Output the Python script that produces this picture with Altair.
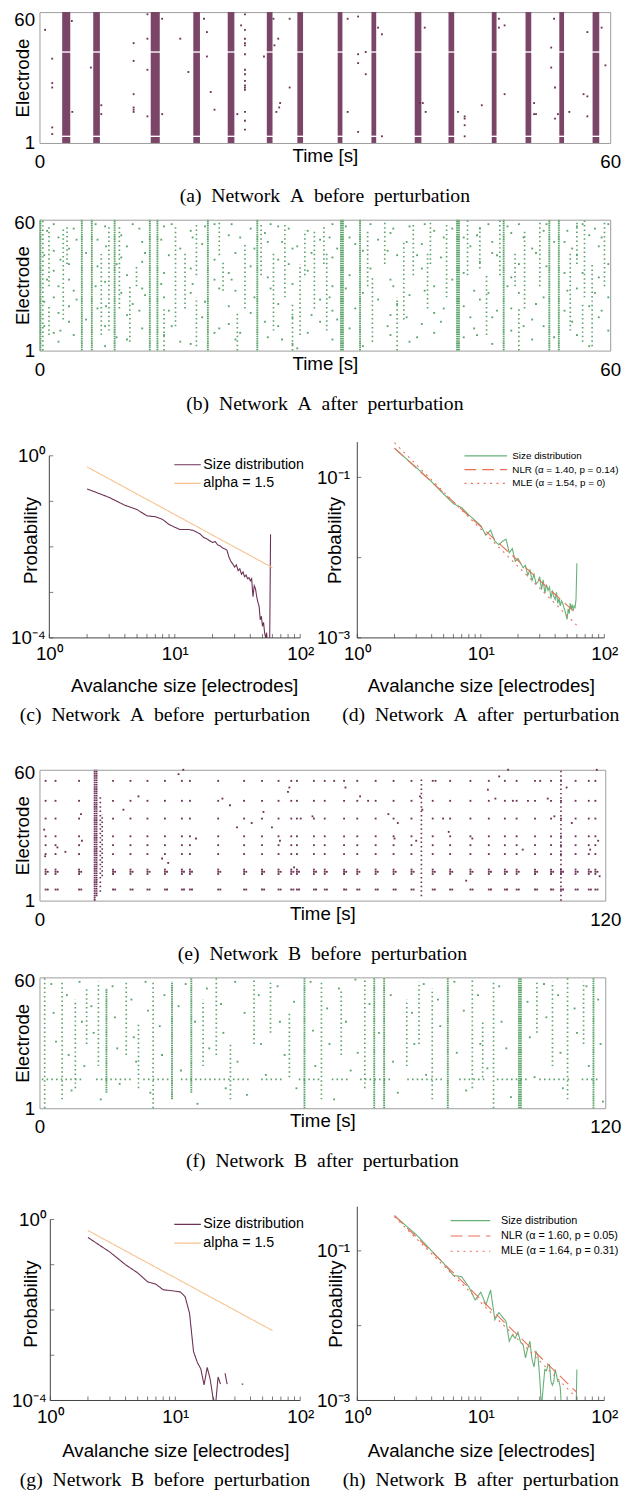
import altair as alt
import pandas as pd

PURPLE = "#6d3156"
GREEN = "#5aa469"
GREEN_LINE = "#66b077"
PEACH = "#f6c28e"
RED = "#e96f57"
BOX = "#9b9b9b"
AXC = "#404040"
SANS = "Liberation Sans"
SERIF = "Liberation Serif"

# ---------------- (a) Network A before perturbation ----------------
A_BURST_T = [2.81, 6.0, 12.17, 16.52, 20.14, 24.2, 27.41, 31.6, 35.15, 39.8, 43.3, 47.8, 51.4, 54.9, 58.5]
A_BURST_W = [0.85, 0.7, 0.95, 0.7, 0.7, 0.6, 0.6, 0.5, 0.5, 0.7, 0.6, 0.5, 0.6, 0.5, 0.7]
# electrode bands that fire in every burst (electrodes 4 and 42 stay silent)
A_BURST_BANDS = [(1, 3.7), (4.3, 41.7), (42.3, 60)]
A_DOTS = [(0.59, 52), (1.34, 39), (1.34, 28), (1.34, 26), (1.34, 8), (1.34, 5), (5.4, 35), (3.4, 56),
          (3.45, 15), (6.5, 18), (6.5, 14), (9.9, 46), (9.9, 38), (9.9, 23), (9.9, 17), (9.9, 16),
          (9.9, 15), (11.35, 59), (11.35, 48), (11.35, 34), (11.35, 13), (12.9, 57), (12.9, 14),
          (14.8, 48), (15.65, 33), (17.3, 57), (17.6, 51), (17.6, 40), (18.0, 24), (18.4, 16),
          (20.8, 14), (21.2, 54), (21.6, 59), (21.6, 52), (21.6, 48), (21.6, 46), (21.6, 45),
          (21.6, 41), (21.6, 34), (21.6, 32), (21.6, 29), (21.6, 27), (21.6, 26), (21.6, 25),
          (21.6, 15), (21.6, 11), (21.6, 7), (23.6, 40), (24.6, 57), (25.1, 48), (24.7, 45),
          (25.3, 19), (25.2, 17), (24.9, 15), (26.3, 57), (26.3, 26), (32.4, 57), (33.5, 58),
          (33.5, 41), (34.3, 42), (33.5, 37), (34.3, 32), (32.4, 15), (33.5, 6), (36.0, 50),
          (35.6, 53), (36.0, 4), (40.5, 53), (40.0, 19), (40.3, 19), (40.6, 15), (44.0, 15),
          (44.7, 13), (44.7, 12), (44.7, 9), (44.7, 4), (46.5, 18), (48.3, 57), (48.9, 54),
          (48.3, 53), (48.9, 23), (52.0, 19), (52.0, 14), (52.2, 14), (55.7, 15), (54.1, 57),
          (53.8, 44), (53.8, 35), (54.2, 26), (54.5, 14), (54.2, 12), (57.2, 23), (57.6, 22),
          (57.6, 51), (57.6, 13), (59.1, 53), (59.5, 36)]

# ---------------- (b) Network A after perturbation ----------------
B_DENSE = [(0.1, 1, 60), (4.45, 1, 60), (5.5, 1, 60), (7.9, 1, 60), (11.6, 1, 60), (12.4, 1, 60),
           (17.7, 1, 60), (22.9, 1, 60), (31.7, 1, 60), (31.9, 1, 60), (33.7, 1, 60), (43.9, 1, 60),
           (44.1, 1, 60), (48.8, 1, 60), (53.6, 1, 60), (54.6, 1, 60)]
B_SPARSE = [(1.0, 30, 58), (1.0, 8, 22), (2.5, 15, 56), (7.3, 10, 58), (14.3, 12, 58), (15.3, 20, 45),
            (16.5, 35, 58), (16.5, 3, 25), (19.3, 28, 42), (21.6, 20, 50), (23.3, 35, 58), (24.6, 10, 45),
            (25.8, 25, 58), (27.4, 8, 40), (27.9, 35, 55), (28.9, 20, 55), (30.2, 10, 45), (34.5, 30, 55),
            (35.0, 5, 35), (36.3, 40, 60), (38.3, 15, 50), (39.3, 35, 58), (40.8, 20, 45), (42.8, 25, 58),
            (45.0, 35, 60), (47.0, 8, 35), (48.4, 35, 60), (51.0, 20, 55), (52.6, 30, 60), (55.8, 10, 45),
            (57.3, 25, 60), (58.1, 3, 40), (59.4, 30, 60), (0.35, 1, 60), (10.2, 30, 40), (6.5, 8, 45),
            (8.4, 20, 58), (13.1, 1, 20), (20.8, 1, 18), (26.6, 1, 22), (37.6, 1, 25), (46.3, 38, 58),
            (50.4, 1, 20), (56.5, 40, 60), (2.9, 40, 58), (9.5, 5, 30), (18.9, 44, 60), (29.9, 40, 58),
            (41.1, 40, 60), (50.0, 30, 45), (57.1, 5, 22)]
B_DOTS = [(0.5, 44), (0.5, 23), (0.5, 12), (1.5, 58), (1.5, 46), (1.5, 37), (1.5, 25), (1.5, 9),
          (2.0, 52), (2.0, 30), (2.0, 18), (2.0, 5), (3.1, 47), (3.1, 40), (3.1, 33), (3.1, 21), (3.1, 14),
          (3.6, 56), (3.6, 28), (3.6, 8), (6.1, 51), (6.1, 39), (6.1, 20), (6.9, 57), (6.9, 32), (6.9, 12),
          (6.9, 3), (8.6, 53), (8.6, 43), (8.6, 27), (9.2, 48), (9.2, 35), (9.2, 17), (9.2, 6), (9.8, 58),
          (9.8, 22), (10.8, 50), (10.8, 41), (10.8, 29), (10.8, 11), (13.1, 57), (13.1, 36), (13.1, 25),
          (13.1, 8), (13.6, 44), (13.6, 19), (15.9, 55), (15.9, 38), (15.9, 27), (15.9, 4), (17.1, 49),
          (17.1, 16), (18.4, 58), (18.4, 42), (18.4, 33), (18.4, 9), (19.9, 53), (19.9, 36), (19.9, 21),
          (19.9, 13), (20.6, 45), (20.6, 28), (20.6, 6), (22.2, 56), (22.2, 39), (22.2, 18), (24.0, 50),
          (24.0, 34), (24.0, 7), (25.1, 57), (25.1, 42), (25.1, 22), (25.1, 12), (26.6, 47), (26.6, 31),
          (26.6, 16), (26.6, 4), (28.2, 55), (28.2, 37), (28.2, 9), (29.5, 51), (29.5, 24), (29.5, 14),
          (30.8, 58), (30.8, 43), (30.8, 30), (30.8, 19), (30.8, 6), (32.6, 52), (32.6, 35), (32.6, 11),
          (34.0, 46), (34.0, 27), (34.0, 3), (36.9, 54), (36.9, 33), (36.9, 17), (36.9, 8), (37.6, 44),
          (37.6, 22), (38.9, 57), (38.9, 26), (38.9, 5), (40.2, 49), (40.2, 38), (40.2, 13), (41.5, 55),
          (41.5, 30), (41.5, 18), (41.5, 9), (42.2, 43), (42.2, 14), (44.6, 52), (44.6, 36), (44.6, 21),
          (44.6, 7), (45.7, 28), (45.7, 11), (46.3, 56), (46.3, 41), (46.3, 24), (47.6, 50), (47.6, 45),
          (47.6, 16), (47.6, 4), (49.6, 54), (49.6, 34), (49.6, 20), (49.6, 10), (50.4, 58), (50.4, 40),
          (50.4, 27), (51.8, 47), (51.8, 15), (51.8, 6), (53.0, 55), (53.0, 25), (53.0, 12), (55.2, 50),
          (55.2, 36), (55.2, 19), (56.5, 57), (56.5, 44), (56.5, 29), (56.5, 8), (57.8, 53), (57.8, 21),
          (57.8, 3), (58.8, 48), (58.8, 34), (58.8, 16), (59.8, 58), (59.8, 40), (59.8, 25), (59.8, 10),
          (0.8, 55), (0.8, 33), (2.2, 42), (2.2, 10), (3.9, 51), (3.9, 24), (4.9, 45), (4.9, 15),
          (5.9, 58), (5.9, 30), (7.0, 48), (7.0, 21), (8.1, 40), (8.1, 7), (10.5, 56), (10.5, 19),
          (11.1, 45), (11.1, 26), (12.8, 51), (12.8, 31), (13.9, 58), (13.9, 12), (14.8, 47), (14.8, 5),
          (16.1, 52), (16.1, 31), (17.4, 57), (17.4, 23), (18.9, 29), (18.9, 11), (20.2, 58), (20.2, 33),
          (21.1, 52), (21.1, 9), (22.6, 47), (22.6, 25), (23.7, 54), (23.7, 14), (24.3, 58), (24.3, 29),
          (25.5, 50), (25.5, 6), (26.2, 56), (26.2, 40), (27.1, 48), (27.1, 2), (28.6, 45), (28.6, 17),
          (30.5, 52), (30.5, 25), (31.3, 47), (31.3, 15), (32.2, 57), (32.2, 29), (33.2, 49), (33.2, 20),
          (34.8, 58), (34.8, 38), (35.6, 51), (35.6, 24), (36.6, 46), (36.6, 12), (37.2, 56), (37.2, 30),
          (38.6, 50), (38.6, 16), (39.7, 44), (39.7, 7), (40.5, 58), (40.5, 28), (42.5, 52), (42.5, 20),
          (43.4, 56), (43.4, 33), (45.3, 48), (45.3, 16), (46.0, 53), (46.0, 8), (47.2, 58), (47.2, 27),
          (48.1, 44), (48.1, 19), (49.2, 57), (49.2, 30), (50.9, 52), (50.9, 12), (52.2, 45), (52.2, 22),
          (53.3, 58), (53.3, 39), (54.1, 50), (54.1, 7), (55.5, 55), (55.5, 28), (56.0, 47), (56.0, 14),
          (57.1, 58), (57.1, 36), (58.4, 56), (58.4, 27), (59.1, 52), (59.1, 19)]

# ---------------- (e) Network B before perturbation ----------------
E_EVENTS = [1.3, 3.4, 8.4, 15.6, 19.3, 22.9, 26.6, 30.2, 31.9, 37.9, 43.4, 47.2, 50.7, 53.4, 54.6,
            58.2, 60.5, 64.6, 67.4, 71.3, 75.1, 78.9, 83.4, 87.1, 91.4, 95.3, 98.7, 101.2, 105.1,
            108.5, 110.6, 113.7, 116.5, 117.9]
E_ROWS = [55, 46, 38, 30, 26, 22, 15, 14, 13, 6]
E_WIDE_ROWS = [14, 6]
E_WIDE_SHIFT = [0.45]
E_DENSE = [(11.7, 1, 60), (12.1, 3, 60)]
E_SPARSE = [(12.9, 5, 48), (13.3, 12, 40), (81.0, 3, 56), (110.6, 1, 60)]
E_DOTS = [(1.0, 33), (1.2, 21), (3.8, 25), (5.5, 23), (8.8, 40), (9.0, 28), (17.8, 42), (21.0, 48),
          (26.0, 20), (27.3, 18), (29.5, 58), (30.5, 60), (33.2, 29), (38.8, 47), (40.4, 44), (41.9, 34),
          (45.0, 36), (47.5, 41), (49.3, 34), (51.0, 28), (52.7, 50), (53.0, 52), (54.0, 16), (55.4, 38),
          (57.9, 39), (62.5, 55), (64.9, 52), (68.0, 48), (69.7, 46), (74.0, 40), (75.3, 29), (76.0, 36),
          (79.9, 28), (80.7, 48), (81.2, 42), (84.0, 55), (85.6, 38), (86.8, 32), (90.5, 10), (91.8, 29),
          (95.1, 51), (96.7, 47), (97.5, 57), (99.4, 60), (100.4, 46), (102.5, 24), (103.6, 46),
          (106.2, 55), (107.8, 47), (109.2, 39), (111.8, 52), (112.9, 36), (116.8, 24), (118.2, 60),
          (118.5, 28), (118.8, 12)]

# ---------------- (f) Network B after perturbation ----------------
F_DENSE = [(28.1, 5, 58), (32.2, 8, 60), (56.2, 1, 60), (71.0, 1, 60), (73.1, 1, 60), (86.6, 1, 60),
           (101.7, 1, 60), (102.1, 1, 60), (117.5, 1, 60), (14.2, 8, 55)]
F_SPARSE = [(1.1, 1, 60), (4.8, 5, 58), (7.6, 10, 50), (12.5, 20, 58), (18.4, 25, 58), (24.1, 1, 58),
            (34.7, 20, 50), (37.5, 25, 60), (45.5, 30, 60), (49.0, 35, 58), (59.8, 5, 58), (69.0, 10, 60),
            (77.9, 20, 50), (83.3, 5, 55), (91.8, 10, 60), (96.3, 1, 58), (108.8, 20, 58), (112.0, 5, 60),
            (115.4, 30, 58), (10.0, 30, 55), (21.0, 10, 40), (40.5, 5, 30), (53.0, 15, 45), (64.0, 25, 55),
            (80.5, 30, 58), (94.0, 15, 40), (105.5, 35, 58)]
F_ROW = [(0.5, 9, 14), (12, 20, 14), (22, 28, 14), (30, 45, 14), (47, 52, 14), (55, 60, 14), (62, 66, 14),
         (68, 75, 14), (78, 86, 14), (89, 95, 14), (97, 104, 14), (106, 113, 14), (115, 119, 14)]
F_DOTS = [(2.5, 57), (3.0, 44), (3.5, 31), (5.8, 52), (6.2, 25), (6.8, 9), (8.5, 58), (9.0, 40), (9.5, 20),
          (11.0, 47), (11.5, 35), (13.0, 5), (15.5, 56), (16.0, 42), (16.5, 28), (17.0, 12), (19.5, 50),
          (20.0, 33), (20.5, 22), (22.5, 58), (23.0, 45), (23.5, 8), (25.5, 38), (26.0, 25), (26.5, 52),
          (29.5, 47), (30.0, 18), (31.0, 57), (33.0, 40), (33.5, 3), (35.5, 55), (36.0, 28), (38.5, 48),
          (39.0, 35), (39.5, 10), (41.5, 58), (42.0, 22), (43.5, 44), (44.0, 7), (46.5, 52), (47.0, 30),
          (48.0, 16), (50.5, 56), (51.0, 40), (52.0, 25), (54.0, 49), (54.5, 10), (57.5, 58), (58.0, 36),
          (58.5, 20), (61.0, 46), (61.5, 30), (62.5, 5), (63.5, 55), (65.0, 40), (66.0, 18), (67.0, 59),
          (67.5, 26), (70.0, 48), (72.0, 35), (74.5, 52), (75.0, 22), (76.0, 8), (79.0, 44), (79.5, 30),
          (81.5, 57), (82.0, 16), (84.5, 50), (85.0, 38), (88.0, 58), (88.5, 26), (90.0, 45), (90.5, 9),
          (93.0, 52), (93.5, 30), (95.0, 19), (97.5, 56), (98.0, 40), (99.0, 28), (100.0, 6), (103.5, 49),
          (104.0, 33), (105.0, 15), (107.0, 57), (107.5, 42), (110.0, 52), (110.5, 26), (111.0, 10),
          (113.5, 46), (114.0, 35), (116.0, 56), (116.5, 20), (118.5, 50), (119.0, 30), (119.5, 4)]

# ---------------- size distributions ----------------
C_SIZE = [2, 3, 4, 5, 6, 7, 8, 9, 10, 11, 12, 13, 14, 15, 16, 17, 18, 19, 20, 21, 22, 23, 24, 25, 26, 27,
          28, 29, 30, 31, 32, 33, 34, 35, 36, 37, 38, 39, 40, 41, 42, 43, 44, 45, 46, 47, 48, 49, 50, 51,
          52, 53, 54, 55, 56, 57, 58]
C_PROB = [0.187, 0.122, 0.082, 0.066, 0.048, 0.046, 0.040, 0.031, 0.027, 0.024, 0.024, 0.024, 0.023,
          0.021, 0.019, 0.016, 0.015, 0.0135, 0.0125, 0.013, 0.011, 0.0105, 0.0095, 0.009, 0.0085, 0.006,
          0.0048, 0.0042, 0.0036, 0.0040, 0.0030, 0.0033, 0.0025, 0.0028, 0.0022, 0.0024, 0.0020, 0.0021,
          0.0018, 0.0020, 0.0008, 0.0014, 0.0012, 0.0008, 0.0006, 0.0005, 0.00025, 0.0003, 0.00018,
          0.00022, 0.00013, 0.0001, 0.00013, 0.00005, 0.00005, 0.00005, 0.019]
ALPHA_SIZE = [2, 60]
ALPHA_PROB = [0.57, 0.0035]

D_SIZE = [2, 3, 4, 5, 6, 7, 8, 9, 10, 11, 12, 13, 14, 15, 16, 17, 18, 19, 20, 21, 22, 23, 24, 25, 26, 27,
          28, 29, 30, 31, 32, 33, 34, 35, 36, 37, 38, 39, 40, 41, 42, 43, 44, 45, 46, 47, 48, 49, 50, 51,
          52, 53, 54, 55, 56, 57, 58, 59, 60]
D_PROB = [0.23, 0.133, 0.088, 0.062, 0.047, 0.042, 0.034, 0.029, 0.025, 0.019, 0.022, 0.016, 0.0145, 0.016,
          0.017, 0.0115, 0.013, 0.009, 0.0098, 0.0085, 0.0075, 0.008, 0.006, 0.007, 0.0052, 0.0062, 0.0047,
          0.005, 0.0058, 0.004, 0.0053, 0.0036, 0.0046, 0.0039, 0.0043, 0.0031, 0.0039, 0.0033, 0.003,
          0.0037, 0.0027, 0.0031, 0.0025, 0.0029, 0.0027, 0.0024, 0.0022, 0.0019, 0.0017, 0.0023, 0.002,
          0.0027, 0.0023, 0.0026, 0.0022, 0.0025, 0.0024, 0.003, 0.0085]
D_NLR_SIZE = [2, 60]
D_NLR_PROB = [0.231, 0.00197]
D_MLE_SIZE = [2, 60]
D_MLE_PROB = [0.27, 0.00143]

G_SIZE = [2, 3, 4, 5, 6, 7, 8, 9, 10, 11, 12, 13, 14, 15, 16, 17, 18, 19, 20, 21, 22, 23, 24, 25, 26, 27,
          28, 33, 34, 35, 36]
G_PROB = [0.40, 0.19, 0.10, 0.066, 0.042, 0.037, 0.028, 0.027, 0.026, 0.025, 0.0195, 0.0085, 0.0012,
          0.0007, 0.0005, 0.00022, 0.00054, 0.0003, 0.00012, 0.00008, 0.00033, 0.00023, None, 0.0004,
          0.00023, None, None, None, 0.00023, 0.00023, None]

H_SIZE = D_SIZE
H_PROB = [0.295, 0.165, 0.10, 0.068, 0.047, 0.045, 0.033, 0.022, 0.028, 0.019, 0.030, 0.012, 0.015, 0.013,
          0.0115, 0.0062, 0.0075, 0.0068, 0.0082, 0.006, 0.0056, 0.0037, 0.005, 0.0062, 0.0035, 0.0028,
          0.0045, 0.004, 0.002, 0.0008, 0.0015, 0.0026, 0.0025, 0.003, 0.003, 0.0018, 0.0016, 0.0018,
          0.0026, 0.0022, 0.0018, 0.0018, 0.0015, 0.0008, 0.0007, 0.0009, 0.0006, 0.0006, 0.0006, 0.0006,
          0.0006, 0.0006, 0.0006, 0.0006, 0.0006, 0.0006, 0.0006, 0.0006, 0.0026]
H_NLR_SIZE = [2, 60]
H_NLR_PROB = [0.295, 0.00128]
H_MLE_SIZE = [2, 60]
H_MLE_PROB = [0.285, 0.00108]

X_TICKS = [1, 2, 3, 4, 5, 6, 7, 8, 9, 10, 20, 30, 40, 50, 60, 70, 80, 90, 100]

SUPEXPR = ("datum.value > 50 ? '10\u00b2' : datum.value > 5 ? '10\u00b9' : datum.value > 0.5 ? '10\u2070' : "
           "datum.value > 0.05 ? '10\u207b\u00b9' : datum.value > 0.005 ? '10\u207b\u00b2' : "
           "datum.value > 0.0005 ? '10\u207b\u00b3' : '10\u207b\u2074'")


def cap(text, dx=0, offset=15):
    return alt.TitleParams(text.replace(" ", "\u2002"), orient="bottom", font=SERIF, fontSize=20,
                           fontWeight="normal", color="black", offset=offset, anchor="middle", dx=dx)


def raster(color, tmax, width, caption, dots, dense=None, sparse=None, bursts=None, hsegs=None, top_off=3):
    H = 133
    xsc = alt.Scale(domain=[0, tmax], nice=False, zero=False)
    ysc = alt.Scale(domain=[1, 60], nice=False, zero=False)
    xax = alt.Axis(values=[0, tmax], title="Time [s]", labelFlush=False, ticks=False, domain=False,
                   grid=False, labelFont=SANS, labelFontSize=19, labelColor="black", labelPadding=10,
                   labelAngle=0, titleFont=SANS, titleFontSize=19, titleFontWeight="normal",
                   titleColor="black", titleY=13, titleBaseline="middle", titleX=width / 2)
    yax = alt.Axis(values=[1, 60], title="Electrode", ticks=False, domain=False, grid=False,
                   labelFont=SANS, labelFontSize=19, labelColor="black", labelPadding=5,
                   labelOffset={"condition": {"test": "datum.value == 60", "value": top_off}, "value": 0},
                   titleFont=SANS, titleFontSize=19, titleFontWeight="normal", titleColor="black",
                   titleAngle=270, titleX=-17, titleY=H / 2, titleBaseline="middle", titleAlign="center")

    def X(f):
        return alt.X(f, scale=xsc, axis=xax)

    def Y(f):
        return alt.Y(f, scale=ysc, axis=yax)

    layers = []
    if bursts is not None:
        layers.append(alt.Chart(bursts).mark_rect(color=color, opacity=0.9).encode(
            x=X("t0:Q"), x2="t1:Q", y=Y("e0:Q"), y2="e1:Q"))
    if dense is not None:
        layers.append(alt.Chart(dense).mark_rule(color=color, strokeWidth=1.9, strokeDash=[1.6, 0.65]).encode(
            x=X("t:Q"), y=Y("lo:Q"), y2="hi:Q"))
    if sparse is not None:
        layers.append(alt.Chart(sparse).mark_rule(color=color, strokeWidth=1.7, strokeDash=[1.5, 3.0]).encode(
            x=X("t:Q"), y=Y("lo:Q"), y2="hi:Q"))
    if hsegs is not None:
        layers.append(alt.Chart(hsegs).mark_rule(color=color, strokeWidth=1.7, strokeDash=[1.6, 3.2]).encode(
            x=X("t0:Q"), x2="t1:Q", y=Y("e:Q")))
    layers.append(alt.Chart(dots).mark_square(size=3.5, color=color, opacity=1).encode(
        x=X("t:Q"), y=Y("e:Q")))
    return alt.layer(*layers).properties(
        width=width, height=H, view=alt.ViewBackground(stroke=BOX, strokeWidth=1), title=cap(caption))


def logpanel(names, colors, dashes, sizes, probs, xdom, ydom, ylab, ytick, W, H, caption, leg,
             title_x, title_y, title_cx, ypad, ytop, cap_dx=0):
    rows = []
    for n, ss, pp in zip(names, sizes, probs):
        for i, (s, p) in enumerate(zip(ss, pp)):
            rows.append({"series": n, "s": s, "p": p, "i": i})
    df = pd.DataFrame(rows)
    xsc = alt.Scale(type="log", domain=xdom, nice=False)
    ysc = alt.Scale(type="log", domain=ydom, nice=False)
    xax = alt.Axis(values=[1, 10, 100], labelExpr=SUPEXPR, ticks=False, grid=False, domain=False,
                   labelFlush=False, labelFont=SANS, labelFontSize=19,
                   labelColor="black", labelPadding=7, labelAngle=0, title="Avalanche size [electrodes]",
                   titleFont=SANS, titleFontSize=19, titleFontWeight="normal", titleColor="black",
                   titleY=title_y, titleBaseline="middle", titleX=title_cx)
    yax = alt.Axis(values=ylab, labelExpr=SUPEXPR, ticks=False, grid=False, domain=False,
                   labelFlush=False, labelFont=SANS, labelFontSize=19, labelColor="black",
                   labelPadding=ypad, title="Probability", titleFont=SANS, titleFontSize=19,
                   titleFontWeight="normal", titleColor="black", titleAngle=270, titleX=title_x,
                   titleY=H / 2, titleBaseline="middle", titleAlign="center")

    def X(f):
        return alt.X(f, scale=xsc, axis=xax)

    def Y(f):
        return alt.Y(f, scale=ysc, axis=yax)

    main = alt.Chart(df).mark_line(clip=True, strokeWidth=1.1).encode(
        x=X("s:Q"), y=Y("p:Q"),
        color=alt.Color("series:N", scale=alt.Scale(domain=names, range=colors), legend=alt.Legend(**leg)),
        strokeDash=alt.StrokeDash("series:N", scale=alt.Scale(domain=names, range=dashes),
                                  legend=alt.Legend(**leg)),
        order="i:Q")
    xline = alt.Chart(pd.DataFrame({"s0": [1], "s1": [100], "p": [ydom[0]]})).mark_rule(
        color=AXC, strokeWidth=1).encode(x=X("s0:Q"), x2="s1:Q", y=Y("p:Q"))
    yline = alt.Chart(pd.DataFrame({"s": [1], "p0": [ydom[0]], "p1": [ytop]})).mark_rule(
        color=AXC, strokeWidth=1).encode(x=X("s:Q"), y=Y("p0:Q"), y2="p1:Q")
    xt = alt.Chart(pd.DataFrame({"s": X_TICKS, "p": [ydom[0]] * len(X_TICKS)})).mark_tick(
        orient="vertical", size=4, thickness=1, yOffset=-2, color=AXC).encode(x=X("s:Q"), y=Y("p:Q"))
    yt = alt.Chart(pd.DataFrame({"s": [1] * len(ytick), "p": ytick})).mark_tick(
        orient="horizontal", size=4, thickness=1, xOffset=2, color=AXC).encode(x=X("s:Q"), y=Y("p:Q"))
    return alt.layer(main, xline, yline, xt, yt).properties(
        width=W, height=H, view=alt.ViewBackground(stroke=None), title=cap(caption, cap_dx, 10))


def leg(x, y, half, size, fs, off, rp):
    return dict(title=None, orient="none", legendX=x, legendY=y, symbolType=f"M-{half},0H{half}",
                symbolSize=size, symbolStrokeWidth=1.2, labelFont=SANS, labelFontSize=fs,
                labelColor="black", labelOffset=off, rowPadding=rp, padding=0)


burst_rows = [(t - w / 2, t + w / 2, lo, hi) for t, w in zip(A_BURST_T, A_BURST_W) for lo, hi in A_BURST_BANDS]
bursts_a = pd.DataFrame(burst_rows, columns=["t0", "t1", "e0", "e1"])
seg_cols = ["t", "lo", "hi"]

a = raster(PURPLE, 60, 580, "(a) Network A before perturbation",
           pd.DataFrame(A_DOTS, columns=["t", "e"]), bursts=bursts_a, top_off=8)
b = raster(GREEN, 60, 580, "(b) Network A after perturbation",
           pd.DataFrame(B_DOTS, columns=["t", "e"]),
           dense=pd.DataFrame(B_DENSE, columns=seg_cols), sparse=pd.DataFrame(B_SPARSE, columns=seg_cols))

e_pts = [(t, r) for t in E_EVENTS for r in E_ROWS]
e_pts += [(t + d, r) for t in E_EVENTS for r in E_WIDE_ROWS for d in E_WIDE_SHIFT]
e_pts += E_DOTS
e = raster(PURPLE, 120, 575, "(e) Network B before perturbation",
           pd.DataFrame(e_pts, columns=["t", "e"]),
           dense=pd.DataFrame(E_DENSE, columns=seg_cols), sparse=pd.DataFrame(E_SPARSE, columns=seg_cols))
f = raster(GREEN, 120, 575, "(f) Network B after perturbation",
           pd.DataFrame(F_DOTS, columns=["t", "e"]),
           dense=pd.DataFrame(F_DENSE, columns=seg_cols), sparse=pd.DataFrame(F_SPARSE, columns=seg_cols),
           hsegs=pd.DataFrame(F_ROW, columns=["t0", "t1", "e"]))

c = logpanel(["Size distribution", "alpha = 1.5"], [PURPLE, PEACH], [[1, 0], [1, 0]],
             [C_SIZE, ALPHA_SIZE], [C_PROB, ALPHA_PROB], [0.835, 100], [0.0001, 2.0], [0.0001, 1],
             [0.0001, 0.001, 0.01, 0.1, 1], 265, 199, "(c) Network A before perturbation",
             leg(140.5, 13, 1.5, 324, 14.5, 6, 2), -9, 48, 147, -6, 1, cap_dx=-5)
d = logpanel(["Size distribution", "NLR (\u03b1 = 1.40, p = 0.14)", "MLE (\u03b1 = 1.54, p = 0)"],
             [GREEN_LINE, RED, RED], [[1, 0], [12, 6], [2, 4.5]],
             [D_SIZE, D_NLR_SIZE, D_MLE_SIZE], [D_PROB, D_NLR_PROB, D_MLE_PROB], [1, 100], [0.001, 0.275],
             [0.001, 0.1], [0.001, 0.01, 0.1], 251, 199, "(d) Network A after perturbation",
             leg(123.5, 7, 3.6, 144, 10, 20, 2), -23, 48, 125.5, 8, 0.275)
g = logpanel(["Size distribution", "alpha = 1.5"], [PURPLE, PEACH], [[1, 0], [1, 0]],
             [G_SIZE, ALPHA_SIZE], [G_PROB, ALPHA_PROB], [0.819, 100], [0.0001, 1.92], [0.0001, 1],
             [0.0001, 0.001, 0.01, 0.1, 1], 265, 197, "(g) Network B before perturbation",
             leg(140.5, 8, 1.5, 324, 14.5, 6, 2), -9, 51, 138, -7, 1, cap_dx=-5)
h = logpanel(["Size distribution", "NLR (\u03b1 = 1.60, p = 0.05)", "MLE (\u03b1 = 1.64, p = 0.31)"],
             [GREEN_LINE, RED, RED], [[1, 0], [12, 6], [2, 4.5]],
             [H_SIZE, H_NLR_SIZE, H_MLE_SIZE], [H_PROB, H_NLR_PROB, H_MLE_PROB], [1, 100], [0.001, 0.39],
             [0.001, 0.1], [0.001, 0.01, 0.1], 251, 197, "(h) Network B after perturbation",
             leg(107.5, 6.8, 3.1, 169, 11, 23.5, 2.5), -22, 51, 125.5, 8, 0.39)

IND = dict(color="independent", strokeDash="independent")
row_cd = alt.hconcat(c, d, spacing=2).resolve_scale(**IND)
row_gh = alt.hconcat(g, h, spacing=2).resolve_scale(**IND)

top = alt.vconcat(alt.vconcat(a, b, spacing=6), row_cd, spacing=27).resolve_scale(**IND)
bottom = alt.vconcat(alt.vconcat(e, f, spacing=6), row_gh, spacing=34).resolve_scale(**IND)

chart = alt.vconcat(top, bottom, spacing=39).resolve_scale(**IND).properties(
    padding={"left": 2, "top": -10, "right": 0, "bottom": 0}).configure(font=SANS)

chart.save("out.html", embed_options={"renderer": "svg", "actions": False})
